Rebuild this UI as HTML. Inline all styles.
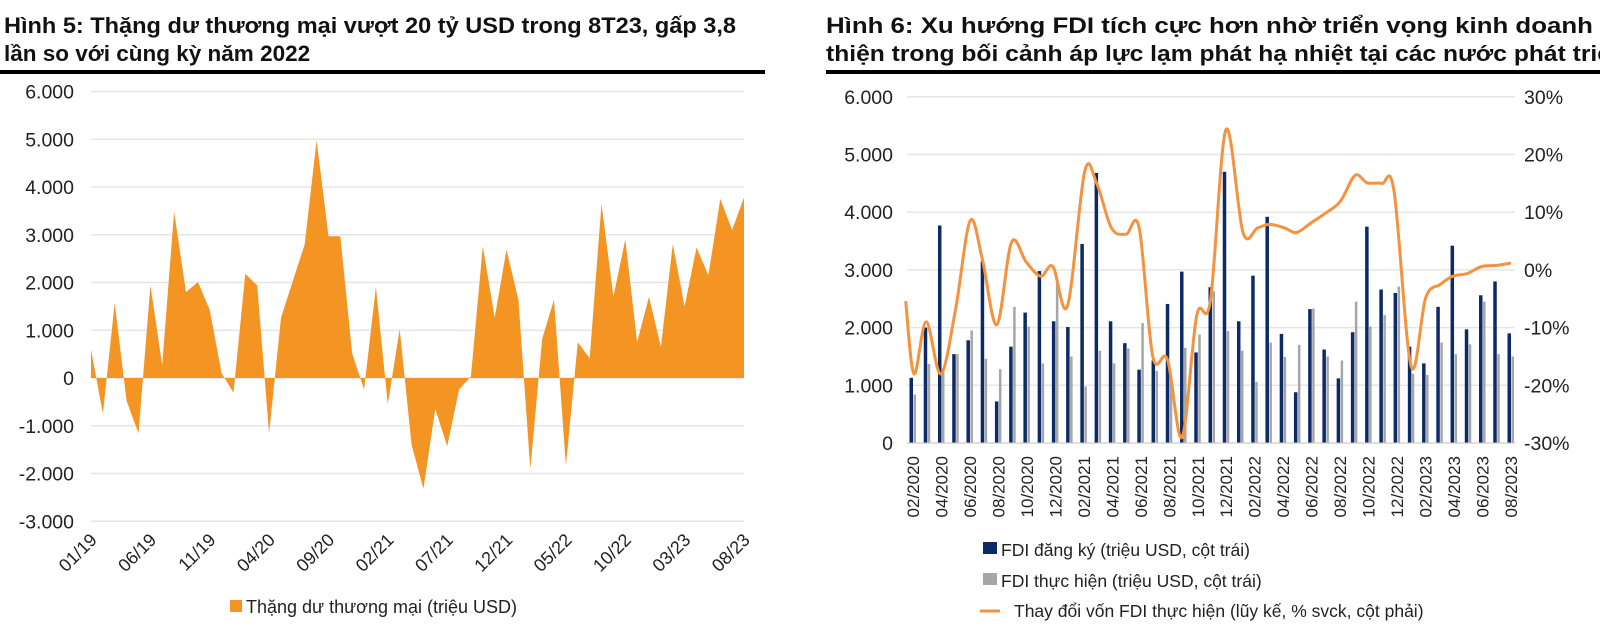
<!DOCTYPE html>
<html><head><meta charset="utf-8">
<style>
html,body{margin:0;padding:0;background:#fff;width:1600px;height:639px;overflow:hidden}
svg{display:block;font-family:"Liberation Sans",Arial,sans-serif}
</style></head>
<body>
<svg id="s" width="1600" height="639" viewBox="0 0 1600 639" xmlns="http://www.w3.org/2000/svg">
<text x="4" y="33" font-size="22.5" font-weight="bold" fill="#111" textLength="732" lengthAdjust="spacingAndGlyphs">Hình 5: Thặng dư thương mại vượt 20 tỷ USD trong 8T23, gấp 3,8</text>
<text x="4" y="61" font-size="22.5" font-weight="bold" fill="#111">lần so với cùng kỳ năm 2022</text>
<rect x="0" y="70" width="765" height="4" fill="#000"/>
<text x="826" y="33" font-size="22.5" font-weight="bold" fill="#111" textLength="810" lengthAdjust="spacingAndGlyphs">Hình 6: Xu hướng FDI tích cực hơn nhờ triển vọng kinh doanh cải</text>
<text x="826" y="61" font-size="22.5" font-weight="bold" fill="#111" textLength="800" lengthAdjust="spacingAndGlyphs">thiện trong bối cảnh áp lực lạm phát hạ nhiệt tại các nước phát triển</text>
<rect x="826" y="70" width="774" height="4" fill="#000"/>
<g id="g"></g>
</svg>
<script>
const NS="http://www.w3.org/2000/svg",g=document.getElementById('g');
function el(t,a,txt){const e=document.createElementNS(NS,t);for(const k in a)e.setAttribute(k,a[k]);if(txt!=null)e.textContent=txt;g.appendChild(e);return e;}
const L0=91,L1=744,Y0=378,U=47.75;
const ly=v=>Y0-v/1000*U;
for(let k=-3;k<=6;k++){const y=ly(k*1000);el('line',{x1:L0,x2:L1,y1:y,y2:y,stroke:'#e6e6e6','stroke-width':1.5});
el('text',{x:74,y:y+7,'font-size':19.5,'text-anchor':'end',fill:'#222'},k==0?'0':(k<0?'-':'')+Math.abs(k)+'.000');}
const lv=[600,-750,1570,-480,-1160,1940,270,3480,1800,2010,1430,100,-310,2180,1940,-1160,1260,2030,2800,4980,2970,2970,510,-240,1910,-550,1020,-1400,-2320,-650,-1430,-240,30,2760,1260,2690,1640,-1910,820,1640,-1840,750,410,3650,1700,2900,750,1700,650,2800,1500,2730,2150,3750,3100,3780];
const dx=(L1-L0)/55;
let d=`M${L0},${Y0}`;lv.forEach((v,i)=>d+=` L${(L0+i*dx).toFixed(1)},${ly(v).toFixed(1)}`);d+=` L${L1},${Y0}Z`;
el('path',{d:d,fill:'#f39423'});
const lx=['01/19','06/19','11/19','04/20','09/20','02/21','07/21','12/21','05/22','10/22','03/23','08/23'];
lx.forEach((t,j)=>{const x=L0+j*5*dx+7,y=541;el('text',{x:x,y:y,'font-size':18,'text-anchor':'end',fill:'#222',transform:`rotate(-45 ${x} ${y})`},t);});
el('rect',{x:230,y:600,width:12,height:12,fill:'#f39423'});
el('text',{x:246,y:613,'font-size':18,fill:'#222'},'Thặng dư thương mại (triệu USD)');
const RY0=443,RU=57.7,R0=907,R1=1515;
const ry=v=>RY0-v/1000*RU, pr=p=>270-p/10*RU;
for(let k=0;k<=6;k++){const y=ry(k*1000);el('line',{x1:R0,x2:R1,y1:y,y2:y,stroke:'#e6e6e6','stroke-width':1.5});
el('text',{x:893,y:y+7,'font-size':19.5,'text-anchor':'end',fill:'#222'},k==0?'0':k+'.000');
el('text',{x:1524,y:y+7,'font-size':19.5,fill:'#222'},((k-3)*10)+'%');}
const nv=[1130,2000,3770,1540,1780,3150,720,1670,2260,2980,2110,2010,3450,4680,2110,1730,1270,1430,2410,2970,1570,2700,4700,2110,2900,3920,1890,880,2320,1620,1120,1920,3750,2660,2600,1670,1380,2360,3420,1970,2560,2800,1900];
const gv=[840,1370,1300,1540,1950,1460,1280,2360,2020,1380,2790,1500,980,1600,1380,1640,2080,1250,1080,1650,1880,2630,1940,1600,1060,1740,1490,1700,2330,1500,1430,2450,2020,2220,2710,1200,1180,1740,1540,1710,2450,1540,1500];
const sp=(1511-913)/42;
nv.forEach((v,i)=>{const x=913+i*sp;
el('rect',{x:x-3.5,y:ry(v),width:3.5,height:RY0-ry(v),fill:'#0c2a66'});
el('rect',{x:x+0.5,y:ry(gv[i]),width:2.5,height:RY0-ry(gv[i]),fill:'#a6a6a6'});});
el('line',{x1:R0,x2:R1,y1:RY0,y2:RY0,stroke:'#ccc','stroke-width':1});
for(let i=0;i<43;i+=2){const x=913+i*sp+6,y=456;el('text',{x:x,y:y,'font-size':17,'text-anchor':'end',fill:'#222',transform:`rotate(-90 ${x} ${y})`},String(i%12+2).padStart(2,'0')+'/'+(2020+Math.floor((i+1)/12)));}
const lp=[[213,-5.4],[230,-18],[255,-9],[285,-18],[315,-7],[345,8.5],[370,2],[400,-9.5],[430,4.8],[460,1.4],[490,-1.1],[515,0.6],[545,-6.2],[580,17],[605,15],[635,7.3],[665,6.2],[692,7.3],[720,-15],[750,-15.5],[780,-29],[810,-7.9],[838,-5.4],[870,24.3],[905,6.5],[935,7.3],[960,7.9],[990,7.3],[1015,6.5],[1045,8.2],[1075,9.9],[1105,11.9],[1135,16.4],[1160,15.1],[1190,15],[1215,13.6],[1250,-16.7],[1280,-4.8],[1310,-2.5],[1335,-1.1],[1365,-0.6],[1395,0.6],[1425,0.8],[1455,1.2]];
const pts=lp.map(([zx,p])=>[913+(zx-228)*0.4874,pr(p)]);
let ld=`M${pts[0][0]},${pts[0][1]}`;
for(let i=0;i<pts.length-1;i++){const p0=pts[Math.max(0,i-1)],p1=pts[i],p2=pts[i+1],p3=pts[Math.min(pts.length-1,i+2)];
const c1=[p1[0]+(p2[0]-p0[0])/6,p1[1]+(p2[1]-p0[1])/6],c2=[p2[0]-(p3[0]-p1[0])/6,p2[1]-(p3[1]-p1[1])/6];
ld+=` C${c1[0].toFixed(1)},${c1[1].toFixed(1)} ${c2[0].toFixed(1)},${c2[1].toFixed(1)} ${p2[0].toFixed(1)},${p2[1].toFixed(1)}`;}
el('path',{d:ld,fill:'none',stroke:'#f5923e','stroke-width':3});
el('rect',{x:983,y:542,width:14,height:12,fill:'#0c2a66'});
el('text',{x:1001,y:556,'font-size':17.5,fill:'#222'},'FDI đăng ký (triệu USD, cột trái)');
el('rect',{x:983,y:573,width:14,height:12,fill:'#a6a6a6'});
el('text',{x:1001,y:587,'font-size':17.5,fill:'#222'},'FDI thực hiện (triệu USD, cột trái)');
el('line',{x1:980,x2:1000,y1:611,y2:611,stroke:'#f5923e','stroke-width':3});
el('text',{x:1014,y:617,'font-size':17.5,fill:'#222'},'Thay đổi vốn FDI thực hiện (lũy kế, % svck, cột phải)');
</script>
</body></html>
